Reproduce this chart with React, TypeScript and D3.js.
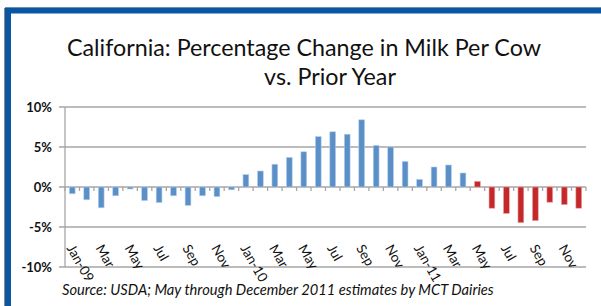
import React, { useEffect, useRef } from 'react'
import * as d3 from 'd3';

// months Jan-09 .. Dec-11
const months = [
    '2009-01', '2009-02', '2009-03', '2009-04', '2009-05', '2009-06',
    '2009-07', '2009-08', '2009-09', '2009-10', '2009-11', '2009-12',
    '2010-01', '2010-02', '2010-03', '2010-04', '2010-05', '2010-06',
    '2010-07', '2010-08', '2010-09', '2010-10', '2010-11', '2010-12',
    '2011-01', '2011-02', '2011-03', '2011-04', '2011-05', '2011-06',
    '2011-07', '2011-08', '2011-09', '2011-10', '2011-11', '2011-12'
];

// percentage change vs prior year
const changePct = [
    -0.85, -1.6, -2.6, -1.1, -0.25, -1.7, -1.95, -1.1, -2.3, -1.1, -1.2, -0.35,
    1.55, 2.0, 2.85, 3.7, 4.4, 6.3, 6.9, 6.6, 8.4, 5.2, 5.0, 3.2,
    0.95, 2.5, 2.75, 1.75, 0.7, -2.65, -3.3, -4.45, -4.2, -1.9, -2.2, -2.65
];

// labels shown under every other month
const tickLabels = [
    'Jan-09', 'Mar', 'May', 'Jul', 'Sep', 'Nov',
    'Jan-10', 'Mar', 'May', 'Jul', 'Sep', 'Nov',
    'Jan-11', 'Mar', 'May', 'Jul', 'Sep', 'Nov'
];

const yTicks = [-10, -5, 0, 5, 10];
const firstEstimate = '2011-05';

export default function App() {
    const svgRef = useRef(null);

    useEffect(() => {
        document.body.style.margin = '0';
        const width = 601;
        const height = 306;
        const left = 65, right = 586, top = 107, bottom = 267;

        const svg = d3.select(svgRef.current)
            .attr('width', width)
            .attr('height', height);
        svg.selectAll('*').remove();

        const font = 'Lato, "Open Sans", sans-serif';

        // frame
        svg.append('line').attr('x1', 5).attr('x2', width).attr('y1', 7.5).attr('y2', 7.5)
            .attr('stroke', '#c8c8c8').attr('stroke-width', 1);
        svg.append('line').attr('x1', 4.5).attr('x2', 4.5).attr('y1', 8).attr('y2', height)
            .attr('stroke', '#8a8a8a').attr('stroke-width', 1);
        svg.append('rect').attr('x', 8).attr('y', 10.5).attr('width', 700).attr('height', 400)
            .attr('fill', 'white').attr('stroke', '#0B56A2').attr('stroke-width', 6);

        // title
        svg.append('text').attr('x', 304).attr('y', 56).attr('text-anchor', 'middle')
            .attr('font-family', font).attr('font-size', 23.3).attr('fill', '#111')
            .text('California: Percentage Change in Milk Per Cow');
        svg.append('text').attr('x', 330).attr('y', 85).attr('text-anchor', 'middle')
            .attr('font-family', font).attr('font-size', 23.3).attr('fill', '#111')
            .text('vs. Prior Year');

        const xScale = d3.scaleBand()
            .domain(months)
            .range([left, right])
            .paddingInner(0.6)
            .paddingOuter(0.3);

        const yScale = d3.scaleLinear()
            .domain([-10, 10])
            .range([bottom, top]);

        // gridlines + y labels
        yTicks.forEach((t) => {
            svg.append('line')
                .attr('x1', left - 6).attr('x2', right)
                .attr('y1', yScale(t)).attr('y2', yScale(t))
                .attr('stroke', '#a6a6a6').attr('stroke-width', 1.3);
            svg.append('text')
                .attr('x', 52).attr('y', yScale(t) + 4.5)
                .attr('text-anchor', 'end')
                .attr('font-family', font).attr('font-weight', 'bold')
                .attr('font-size', 13).attr('fill', '#111')
                .text(t + '%');
        });
        svg.append('line').attr('x1', left).attr('x2', left).attr('y1', top).attr('y2', bottom)
            .attr('stroke', '#a6a6a6').attr('stroke-width', 1.3);

        // bars
        const estIdx = months.indexOf(firstEstimate);
        svg.selectAll('rect.bar')
            .data(changePct)
            .enter().append('rect')
            .attr('class', 'bar')
            .attr('x', (d, i) => xScale(months[i]))
            .attr('width', xScale.bandwidth())
            .attr('y', d => yScale(Math.max(0, d)))
            .attr('height', d => Math.abs(yScale(d) - yScale(0)))
            .attr('fill', (d, i) => i >= estIdx ? '#C4282A' : '#5B8FC7')
            .attr('stroke', (d, i) => i >= estIdx ? '#e7a5a5' : '#b9d0ea')
            .attr('stroke-width', 0.6);

        // category ticks below zero line
        const step = xScale.step();
        d3.range(months.length + 1).forEach((i) => {
            const x = left + i * step;
            svg.append('line').attr('x1', x).attr('x2', x)
                .attr('y1', yScale(0)).attr('y2', yScale(0) + 4)
                .attr('stroke', '#a6a6a6').attr('stroke-width', 1.3);
        });

        // rotated month labels
        tickLabels.forEach((lab, k) => {
            const cx = xScale(months[k * 2]) + xScale.bandwidth() / 2;
            svg.append('text')
                .attr('transform', `translate(${cx - 6}, 248) rotate(60)`)
                .attr('font-family', font).attr('font-size', 13.5).attr('fill', '#111')
                .text(lab);
        });

        // source note
        svg.append('text').attr('x', 62).attr('y', 295)
            .attr('font-family', font).attr('font-style', 'italic')
            .attr('font-size', 14.7).attr('fill', '#111')
            .text('Source: USDA; May through December 2011 estimates by MCT Dairies');
    }, []);

    return (
        <svg ref={svgRef} style={{ display: 'block' }}></svg>
    );
}
